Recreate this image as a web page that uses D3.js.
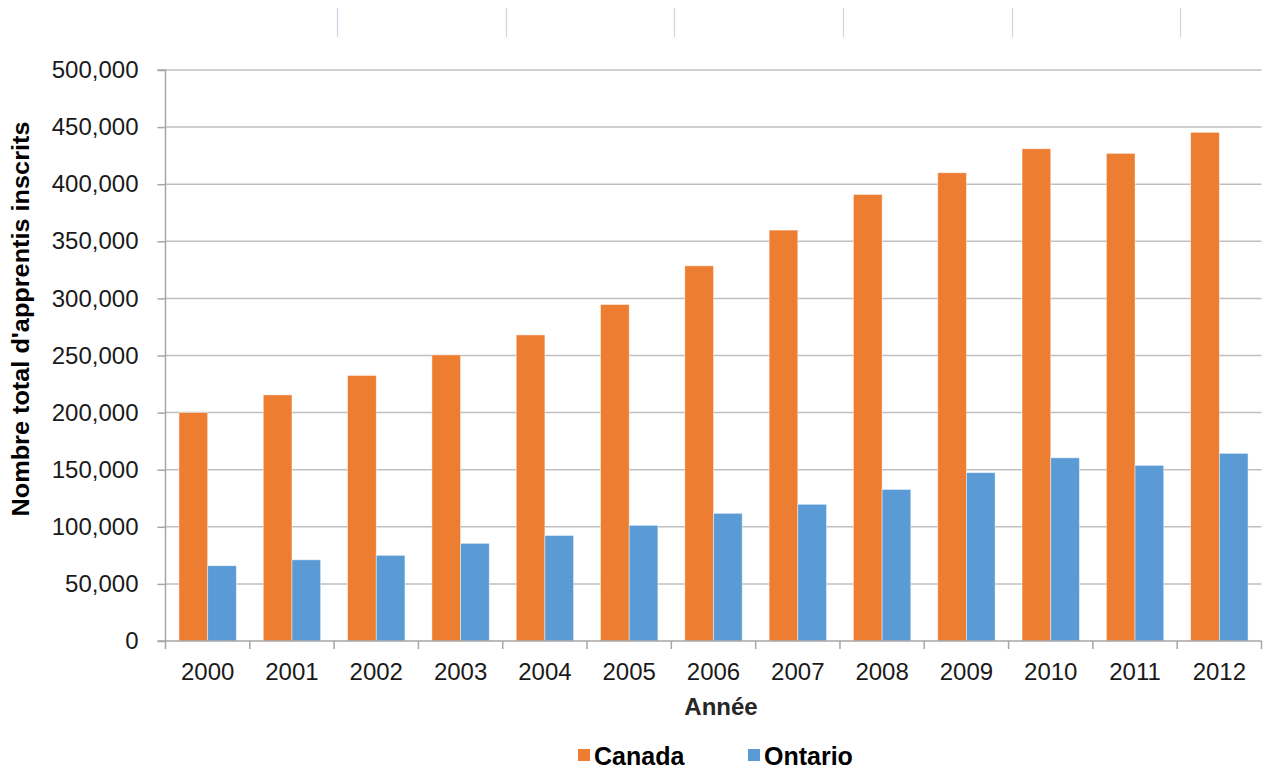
<!DOCTYPE html>
<html>
<head>
<meta charset="utf-8">
<script src="https://cdn.jsdelivr.net/npm/d3@7"></script>
<style>
  html, body { margin: 0; padding: 0; background: #fff; }
  svg { display: block; font-family: "Liberation Sans", Arial, sans-serif; }
</style>
</head>
<body>
<svg id="chart" width="1263" height="769"></svg>
<script>
const years = ["2000","2001","2002","2003","2004","2005","2006","2007","2008","2009","2010","2011","2012"];
const seriesNames = ["Canada", "Ontario"];
const canada  = [200000, 215500, 232500, 250500, 268000, 294600, 328500, 359800, 391000, 410000, 431000, 427000, 445400];
const ontario = [ 65900,  71100,  75000,  85500,  92400, 101300, 111800, 119700, 132700, 147400, 160400, 153800, 164300];
const yTicks = [0, 50000, 100000, 150000, 200000, 250000, 300000, 350000, 400000, 450000, 500000];
const colors = ["#ED7D31", "#5B9BD5"];
const yTitle = "Nombre total d'apprentis inscrits";
const xTitle = "Année";

(function () {
const svg = d3.select("#chart");
const pLeft = 165.5, pRight = 1261.5, pTop = 70, pBottom = 641;

const x0 = d3.scaleBand().domain(years).range([pLeft, pRight]).paddingInner(0).paddingOuter(0);
const x1 = d3.scaleBand().domain(seriesNames).range([0, x0.bandwidth()]).paddingInner(0).paddingOuter(0.47);
const y = d3.scaleLinear().domain([0, 500000]).range([pBottom, pTop]);
const fmt = d3.format(",");

// decorative top table separators
const sepIdx = [2, 4, 6, 8, 10, 12];
svg.append("g").selectAll("line").data(sepIdx).join("line")
  .attr("x1", d => Math.round(x0(years[d])) + 3.5)
  .attr("x2", d => Math.round(x0(years[d])) + 3.5)
  .attr("y1", 8).attr("y2", 37)
  .attr("stroke", "#cdd3e3").attr("stroke-width", 1.2);

// gridlines
svg.append("g").selectAll("line").data(yTicks.filter(d => d > 0)).join("line")
  .attr("x1", pLeft).attr("x2", pRight)
  .attr("y1", d => y(d)).attr("y2", d => y(d))
  .attr("stroke", "#bfbfbf").attr("stroke-width", 1.5);

// bars
const data = years.map((yr, i) => ({ year: yr, values: [canada[i], ontario[i]] }));
const groups = svg.append("g").selectAll("g").data(data).join("g")
  .attr("transform", d => `translate(${x0(d.year)},0)`);
groups.selectAll("rect").data(d => d.values.map((v, j) => ({ key: seriesNames[j], v, j }))).join("rect")
  .attr("x", d => x1(d.key))
  .attr("width", x1.bandwidth())
  .attr("y", d => y(d.v))
  .attr("height", d => pBottom - y(d.v))
  .attr("fill", d => colors[d.j])
  .attr("stroke", "rgba(255,255,255,0.55)")
  .attr("stroke-width", 0.8);

// y axis
const yAxis = d3.axisLeft(y).tickValues(yTicks).tickFormat(fmt).tickSize(8).tickPadding(19);
const gy = svg.append("g").attr("transform", `translate(${pLeft},0)`).call(yAxis);
gy.select(".domain").attr("stroke", "#a6a6a6").attr("stroke-width", 1.5).attr("d", `M-8,${pBottom}H0V${pTop}H-8`);
gy.selectAll(".tick line").attr("stroke", "#a6a6a6").attr("stroke-width", 1.5);
gy.selectAll(".tick text").attr("font-size", 24).attr("fill", "#1a1a1a").attr("font-family", "Liberation Sans, Arial, sans-serif");

// x axis
const xAxis = d3.axisBottom(x0).tickSize(0).tickPadding(22);
const gx = svg.append("g").attr("transform", `translate(0,${pBottom})`).call(xAxis);
gx.select(".domain").attr("stroke", "#a6a6a6").attr("stroke-width", 1.5).attr("d", `M${pLeft},0H${pRight}`);
gx.selectAll(".tick text").attr("font-size", 24).attr("fill", "#1a1a1a").attr("font-family", "Liberation Sans, Arial, sans-serif");
// category boundary ticks
svg.append("g").selectAll("line").data(years.concat(["end"])).join("line")
  .attr("x1", (d, i) => i < years.length ? x0(d) : pRight)
  .attr("x2", (d, i) => i < years.length ? x0(d) : pRight)
  .attr("y1", pBottom).attr("y2", pBottom + 8)
  .attr("stroke", "#a6a6a6").attr("stroke-width", 1.5);

// axis titles
svg.append("text")
  .attr("transform", `translate(29,319) rotate(-90)`)
  .attr("text-anchor", "middle")
  .attr("font-size", 24).attr("font-weight", "bold").attr("fill", "#000")
  .attr("textLength", 395).attr("lengthAdjust", "spacingAndGlyphs")
  .text(yTitle);
svg.append("text")
  .attr("x", 721).attr("y", 715)
  .attr("text-anchor", "middle")
  .attr("font-size", 24).attr("font-weight", "bold").attr("fill", "#262626")
  .text(xTitle);

// legend
const legendX = [578, 748];
const lg = svg.append("g").selectAll("g").data(seriesNames).join("g")
  .attr("transform", (d, i) => `translate(${legendX[i]},0)`);
lg.append("rect").attr("x", 0).attr("y", 749).attr("width", 12).attr("height", 12)
  .attr("fill", (d, i) => colors[i]);
lg.append("text").attr("x", 16).attr("y", 765)
  .attr("font-size", 25).attr("font-weight", "bold").attr("fill", "#000")
  .text(d => d);
})();
</script>
</body>
</html>
